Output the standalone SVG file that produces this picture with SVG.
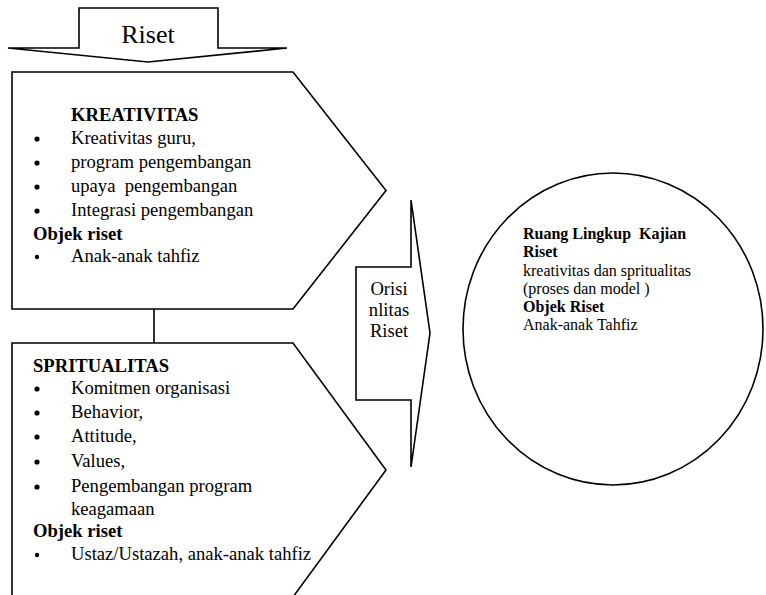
<svg xmlns="http://www.w3.org/2000/svg" width="766" height="595" viewBox="0 0 766 595">
  <style>
    .shape { fill: #ffffff; stroke: #000000; stroke-width: 1.6; stroke-linejoin: miter; }
    .link { fill: none; stroke: #000000; stroke-width: 1.6; }
    text { font-family: "Liberation Serif", "Times New Roman", serif; fill: #000000; }
    .body { font-size: 18.6px; }
    .bold { font-weight: bold; }
    .small { font-size: 16px; }
    .bullet { fill: #000000; }
  </style>
  <rect width="766" height="595" fill="#ffffff"/>

  <!-- connectors -->
  <g id="connectors">
    <line class="link" x1="154" y1="309" x2="154" y2="343"/>
  </g>

  <!-- downward block arrow labelled Riset -->
  <g id="riset-arrow">
    <polygon class="shape" points="79,8 218,8 218,48 287,48 148,62 8,48 79,48"/>
    <text x="148" y="43" font-size="26" text-anchor="middle">Riset</text>
  </g>

  <!-- KREATIVITAS pentagon -->
  <g id="kreativitas">
    <polygon class="shape" points="12,72 293,72 386,190.5 293,309 12,309"/>
    <text class="body bold" x="71" y="121">KREATIVITAS</text>
    <circle class="bullet" cx="37" cy="139" r="2.6"/>
    <text class="body" x="71" y="144">Kreativitas guru,</text>
    <circle class="bullet" cx="37" cy="163" r="2.6"/>
    <text class="body" x="71" y="168">program pengembangan</text>
    <circle class="bullet" cx="37" cy="187" r="2.6"/>
    <text class="body" x="71" y="192" xml:space="preserve">upaya  pengembangan</text>
    <circle class="bullet" cx="37" cy="211" r="2.6"/>
    <text class="body" x="71" y="216">Integrasi pengembangan</text>
    <text class="body bold" x="33" y="240">Objek riset</text>
    <circle class="bullet" cx="37" cy="257" r="2.2"/>
    <text class="body" x="71" y="262">Anak-anak tahfiz</text>
  </g>

  <!-- SPRITUALITAS pentagon (runs past the bottom edge) -->
  <g id="spritualitas">
    <polygon class="shape" points="12,343 293,343 386,470 293,597 12,597"/>
    <text class="body bold" x="33" y="372">SPRITUALITAS</text>
    <circle class="bullet" cx="37" cy="389" r="2.6"/>
    <text class="body" x="71" y="394">Komitmen organisasi</text>
    <circle class="bullet" cx="37" cy="413" r="2.6"/>
    <text class="body" x="71" y="418">Behavior,</text>
    <circle class="bullet" cx="37" cy="437" r="2.6"/>
    <text class="body" x="71" y="442">Attitude,</text>
    <circle class="bullet" cx="37" cy="462" r="2.6"/>
    <text class="body" x="71" y="467">Values,</text>
    <circle class="bullet" cx="37" cy="487" r="2.6"/>
    <text class="body" x="71" y="492">Pengembangan program</text>
    <text class="body" x="71" y="515">keagamaan</text>
    <text class="body bold" x="33" y="537">Objek riset</text>
    <circle class="bullet" cx="37" cy="555" r="2.2"/>
    <text class="body" x="71" y="560">Ustaz/Ustazah, anak-anak tahfiz</text>
  </g>

  <!-- right-pointing block arrow -->
  <g id="orisinalitas">
    <polygon class="shape" points="411,200 430,333 411,467 411,400 356,400 356,267 411,267"/>
    <text class="body" x="389" y="295" text-anchor="middle">Orisi</text>
    <text class="body" x="389" y="316" text-anchor="middle">nlitas</text>
    <text class="body" x="389" y="337" text-anchor="middle">Riset</text>
  </g>

  <!-- scope circle -->
  <g id="ruang-lingkup">
    <ellipse class="shape" cx="613" cy="329" rx="150" ry="156"/>
    <text class="small bold" x="523" y="239" xml:space="preserve">Ruang Lingkup  Kajian</text>
    <text class="small bold" x="523" y="257">Riset</text>
    <text class="small" x="523" y="276">kreativitas dan spritualitas</text>
    <text class="small" x="523" y="294">(proses dan model )</text>
    <text class="small bold" x="523" y="312">Objek Riset</text>
    <text class="small" x="523" y="330">Anak-anak Tahfiz</text>
  </g>
</svg>
